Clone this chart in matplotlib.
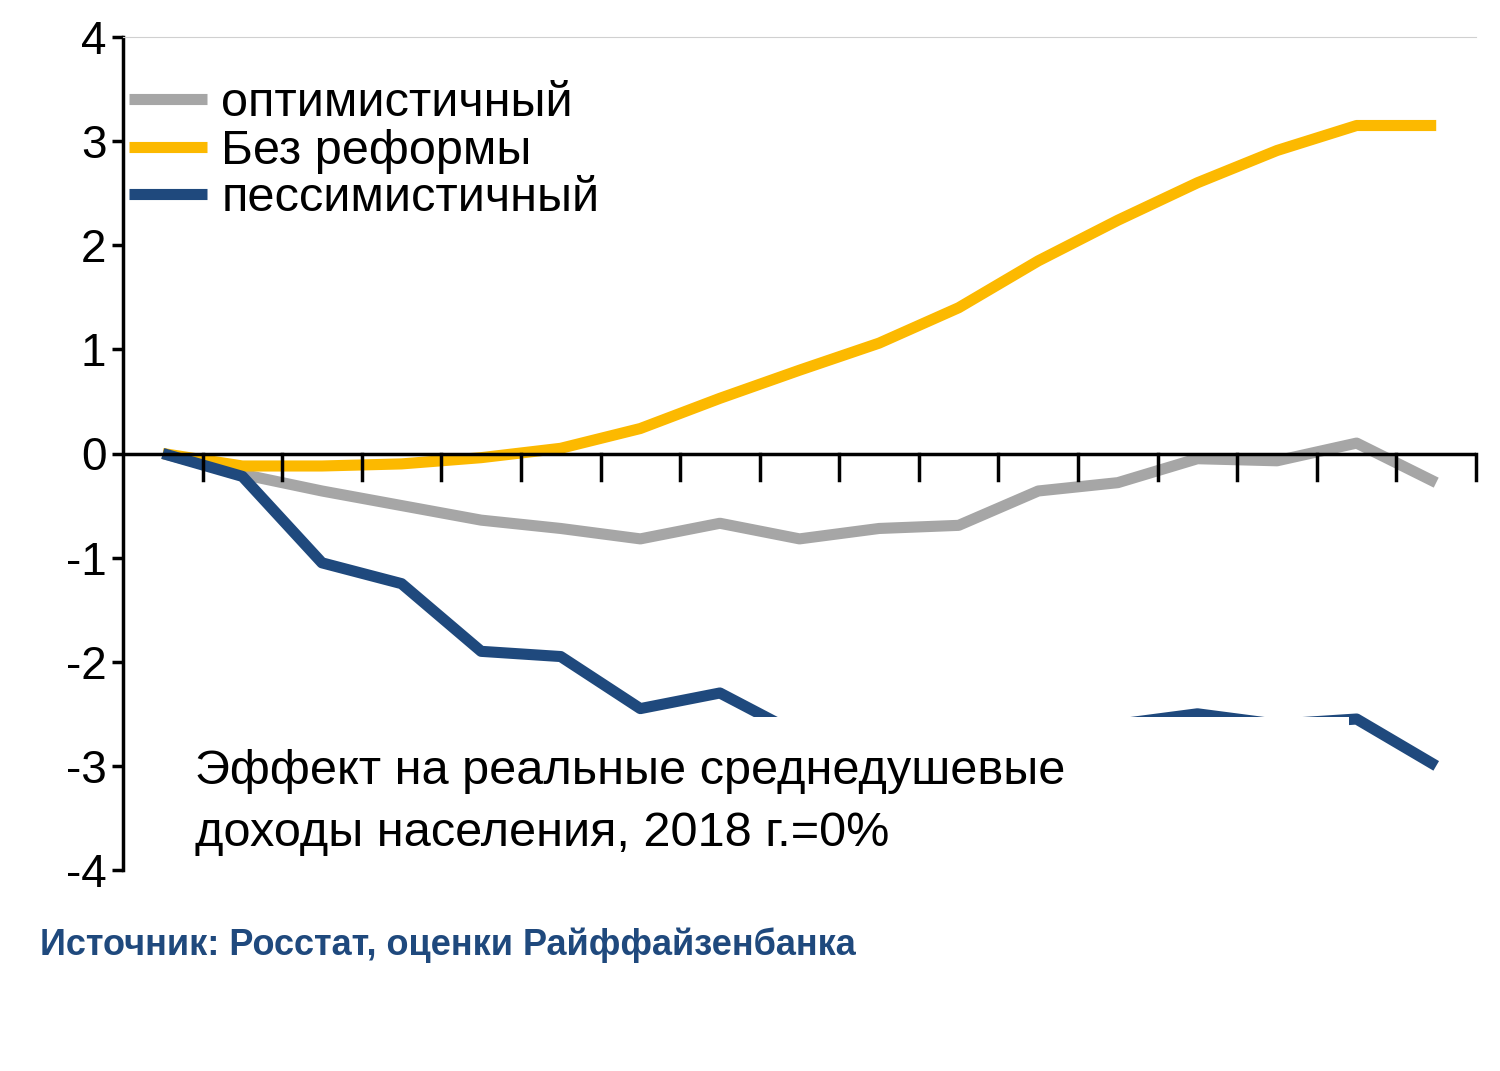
import matplotlib
matplotlib.use("Agg")
import matplotlib.pyplot as plt
import numpy as np

plt.rcParams["font.family"] = ["Liberation Sans", "DejaVu Sans"]
plt.rcParams["axes.unicode_minus"] = False

labels = ["оптимистичный", "Без реформы", "пессимистичный"]
optimistic = [0, -0.2, -0.36, -0.5, -0.64, -0.72, -0.82, -0.67, -0.82, -0.72, -0.69, -0.36, -0.28, -0.05, -0.07, 0.1, -0.28]
no_reform = [0, -0.12, -0.12, -0.1, -0.04, 0.05, 0.24, 0.53, 0.8, 1.06, 1.4, 1.85, 2.24, 2.6, 2.91, 3.15, 3.15]
pessimistic = [0, -0.22, -1.05, -1.25, -1.9, -1.95, -2.45, -2.3, -2.7, -2.8, -2.85, -2.75, -2.6, -2.5, -2.6, -2.55, -3.0]
colors = ["#a6a6a6", "#fcb900", "#1f497d"]

fig = plt.figure(figsize=(15, 10.71), dpi=100)
ax = fig.add_axes([123/1500, 1-870/1071, (1476-123)/1500, (870-37)/1071])
x = np.arange(len(optimistic)) + 0.5
for vals, c, l in zip([optimistic, no_reform, pessimistic], colors, labels):
    ax.plot(x, vals, color=c, lw=8, label=l, solid_capstyle="butt", zorder=3)
ax.set_xlim(0, 17)
ax.set_ylim(-4, 4)
ax.set_yticks(range(-4, 5))
ax.tick_params(axis="y", labelsize=33, length=8, width=2.5, direction="out", pad=4)
ax.set_xticks([])
for s in ["right", "bottom"]:
    ax.spines[s].set_visible(False)
ax.spines["top"].set_color("#d0d0d0")
ax.spines["left"].set_linewidth(2.5)
ax.axhline(0, color="black", lw=2.5, zorder=4)
for t in range(1, 18):
    ax.plot([t, t], [0, -0.25], color="black", lw=2.5, zorder=4, clip_on=False)
ax.add_patch(plt.Rectangle((0.9, -3.98), 14.5, 1.45, facecolor="white", edgecolor="none", zorder=4.5))
ax.text(0.9, -3.05, "Эффект на реальные среднедушевые", fontsize=35, va="center", ha="left", zorder=5)
ax.text(0.9, -3.65, "доходы населения, 2018 г.=0%", fontsize=35, va="center", ha="left", zorder=5)
ax.legend(loc="upper left", bbox_to_anchor=(-0.01, 0.97), fontsize=35, frameon=False,
          handlelength=1.6, handletextpad=0.3, labelspacing=0.05, borderaxespad=0)
fig.text(40/1500, 1-945/1071, "Источник: Росстат, оценки Райффайзенбанка", fontsize=26,
         fontweight="bold", color="#1f497d", va="center", fontstretch="condensed")
fig.savefig("out.png", dpi=100)
